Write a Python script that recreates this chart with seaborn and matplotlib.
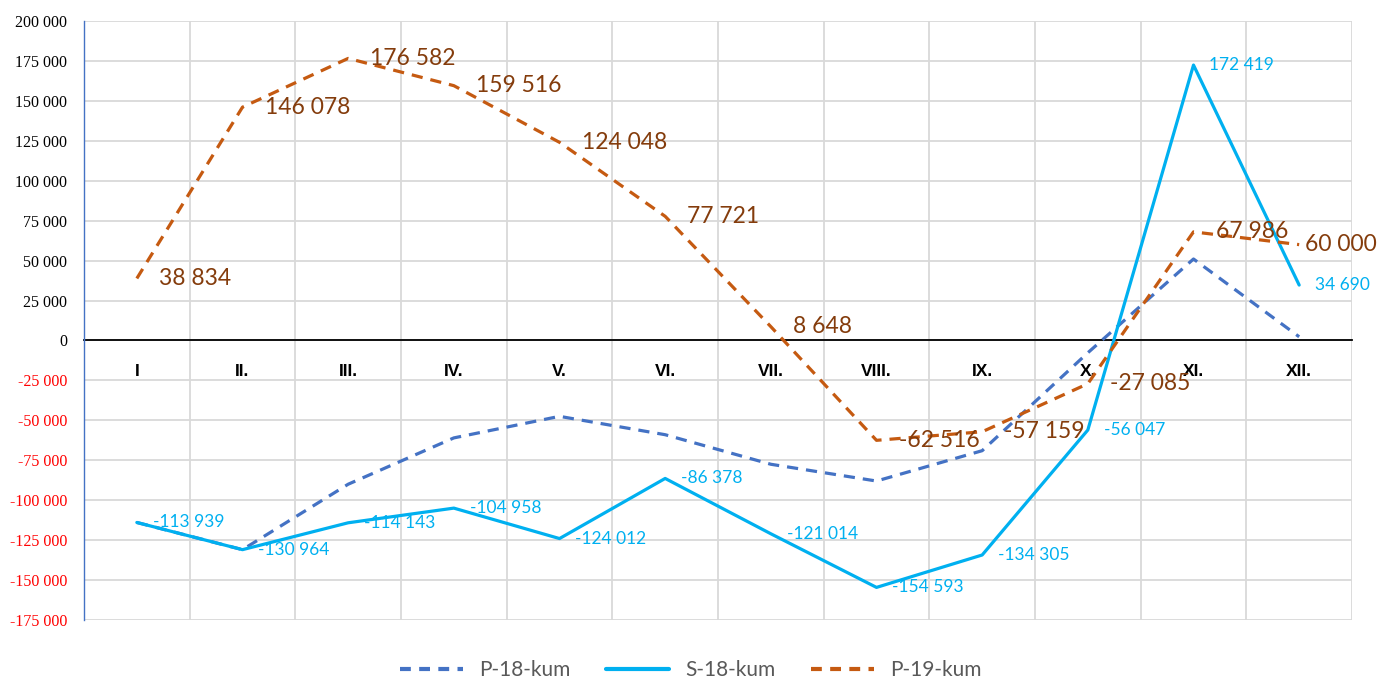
import numpy as np
import pandas as pd
import seaborn as sns
import matplotlib.pyplot as plt
from matplotlib.lines import Line2D

months = ['I', 'II.', 'III.', 'IV.', 'V.', 'VI.', 'VII.', 'VIII.', 'IX.', 'X.', 'XI.', 'XII.']

# P-18 has no data labels
p18 = [-113939, -130964, -90000, -61000, -47500, -59000, -77500, -88000, -69000, -7700, 51000, 2300]
s18 = [-113939, -130964, -114143, -104958, -124012, -86378, -121014, -154593, -134305, -56047, 172419, 34690]
p19 = [38834, 146078, 176582, 159516, 124048, 77721, 8648, -62516, -57159, -27085, 67986, 60000]

yticks = np.arange(-175000, 200001, 25000)

C_P18 = '#4472C4'
C_S18 = '#00B0F0'
C_P19 = '#C55A11'
C_P19_TXT = '#843C0C'
LABEL_FONT = ['Lato', 'DejaVu Sans']


def fmt(v):
    return f'{v:,}'.replace(',', ' ')


sns.set_style('white')
plt.rcParams['font.family'] = LABEL_FONT

fig = plt.figure(figsize=(13.78, 6.82), dpi=100)
ax = fig.add_axes([84 / 1378, 62 / 682, 1268 / 1378, 599 / 682])

x = np.arange(len(months))
df = pd.DataFrame({'x': x, 'P-18-kum': p18, 'S-18-kum': s18, 'P-19-kum': p19})

dash = (0, (3.5, 2.5))
sns.lineplot(data=df, x='x', y='P-18-kum', color=C_P18, linewidth=2.3, linestyle=dash, ax=ax, zorder=3)
sns.lineplot(data=df, x='x', y='S-18-kum', color=C_S18, linewidth=2.3, ax=ax, zorder=4)
sns.lineplot(data=df, x='x', y='P-19-kum', color=C_P19, linewidth=2.3, linestyle=dash, ax=ax, zorder=5)

# data labels, to the right of each point (last one pulled in so it fits)
for xi, v in zip(x, s18):
    ax.annotate(fmt(v), (xi, v), xytext=(11.5, 0), textcoords='offset points',
                ha='left', va='center', fontsize=12.5, color=C_S18, family=LABEL_FONT, zorder=6)
for xi, v in zip(x, p19):
    off = 4 if xi == x[-1] else 16
    ax.annotate(fmt(v), (xi, v), xytext=(off, 0), textcoords='offset points',
                ha='left', va='center', fontsize=16.5, color=C_P19_TXT, family=LABEL_FONT, zorder=6)

# spines first: moving a spine resets the ticks
ax.spines['bottom'].set_position(('data', 0))
ax.spines['bottom'].set_color('black')
ax.spines['bottom'].set_linewidth(1.3)
ax.spines['bottom'].set_zorder(2)
ax.spines['left'].set_color(C_P18)
ax.spines['left'].set_linewidth(1.0)
ax.spines['top'].set_visible(False)
ax.spines['right'].set_visible(False)
ax.set_xlabel('')
ax.set_ylabel('')

ax.set_xlim(-0.5, len(months) - 0.5)
ax.set_ylim(-175000, 200000)

# grid: horizontal at ticks, vertical between categories
ax.set_yticks(yticks)
ax.set_yticklabels([fmt(v) for v in yticks])
for lbl, v in zip(ax.get_yticklabels(), yticks):
    lbl.set_family(['Liberation Serif'])
    lbl.set_fontsize(11.5)
    lbl.set_color('red' if v < 0 else 'black')
for v in yticks:
    ax.axhline(v, color='#D9D9D9', linewidth=1.3, zorder=0)
for b in np.arange(0.5, len(months), 1.0):
    ax.axvline(b, color='#D9D9D9', linewidth=1.3, zorder=0)

ax.set_xticks(x)
ax.set_xticklabels(months)
for lbl in ax.get_xticklabels():
    lbl.set_family(['Liberation Sans'])
    lbl.set_fontweight('bold')
    lbl.set_fontsize(12.5)
    lbl.set_color('black')
ax.tick_params(axis='both', length=0)
ax.tick_params(axis='y', pad=12)
ax.tick_params(axis='x', pad=17)

handles = [
    Line2D([], [], color=C_P18, linewidth=3, linestyle=(0, (2.6, 2.0))),
    Line2D([], [], color=C_S18, linewidth=3),
    Line2D([], [], color=C_P19, linewidth=3, linestyle=(0, (2.6, 2.0))),
]
fig.legend(handles, ['P-18-kum', 'S-18-kum', 'P-19-kum'], loc='center',
           bbox_to_anchor=(691 / 1378, 12 / 682), ncol=3, frameon=False,
           fontsize=15, handlelength=3.0, handletextpad=0.8, columnspacing=1.7,
           labelcolor='#595959')

fig.savefig('out.png', dpi=100)
